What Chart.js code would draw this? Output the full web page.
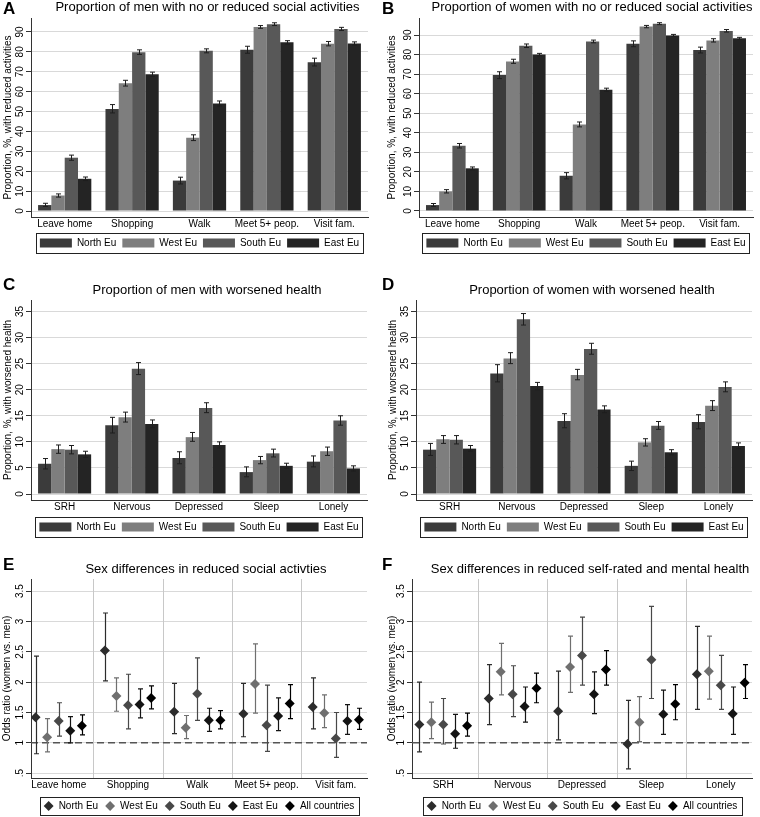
<!DOCTYPE html>
<html>
<head>
<meta charset="utf-8">
<script src="https://cdn.jsdelivr.net/npm/chart.js@4.4.1/dist/chart.umd.min.js"></script>
<style>
  body { margin: 0; background: #fff; }
  #wrap { position: relative; width: 760px; height: 817px; background: #fff; }
  canvas { position: absolute; }
  .lbl { position: absolute; font: bold 17px "Liberation Sans", Arial, sans-serif; line-height: 17px; color: #000; }
</style>
</head>
<body>
<div id="wrap">
  <canvas id="cA" width="380" height="270" style="left:0;top:0"></canvas>
  <canvas id="cB" width="380" height="270" style="left:380px;top:0"></canvas>
  <canvas id="cC" width="380" height="270" style="left:0;top:270px"></canvas>
  <canvas id="cD" width="380" height="270" style="left:380px;top:270px"></canvas>
  <canvas id="cE" width="380" height="277" style="left:0;top:540px"></canvas>
  <canvas id="cF" width="380" height="277" style="left:380px;top:540px"></canvas>
  <div class="lbl" style="left:3px;top:0">A</div>
  <div class="lbl" style="left:382px;top:0">B</div>
  <div class="lbl" style="left:3px;top:276px">C</div>
  <div class="lbl" style="left:382px;top:276px">D</div>
  <div class="lbl" style="left:3px;top:556px">E</div>
  <div class="lbl" style="left:382px;top:556px">F</div>
</div>
<script>
// categories
const regions = ['North Eu', 'West Eu', 'South Eu', 'East Eu'];
const oddsGroups = ['North Eu', 'West Eu', 'South Eu', 'East Eu', 'All countries'];
const activities = ['Leave home', 'Shopping', 'Walk', 'Meet 5+ peop.', 'Visit fam.'];
const healthItems = ['SRH', 'Nervous', 'Depressed', 'Sleep', 'Lonely'];

// tick labels
const pctTicksAct = [0, 10, 20, 30, 40, 50, 60, 70, 80, 90];
const pctTicksHealth = [0, 5, 10, 15, 20, 25, 30, 35];
const oddsTicks = [0.5, 1, 1.5, 2, 2.5, 3, 3.5];
const oddsTickLabels = ['.5', '1', '1.5', '2', '2.5', '3', '3.5'];

// A: men, reduced social activities (rows = regions)
const menAct = [
  [3.0, 51.3, 15.3, 81.0, 74.8],
  [7.8, 64.2, 36.8, 92.5, 84.1],
  [26.8, 79.8, 80.5, 93.9, 91.5],
  [16.2, 68.7, 54.0, 84.8, 84.2]
];
const menActLo = [
  [2.3, 49.3, 13.6, 79.3, 72.9],
  [7.0, 62.8, 35.4, 91.8, 83.0],
  [25.5, 78.7, 79.5, 93.2, 90.7],
  [15.3, 67.6, 52.8, 83.9, 83.4]
];
const menActHi = [
  [3.9, 53.5, 17.0, 82.8, 76.8],
  [8.6, 65.7, 38.3, 93.2, 85.2],
  [28.1, 81.0, 81.5, 94.6, 92.3],
  [17.1, 69.8, 55.3, 85.6, 85.0]
];

// B: women, reduced social activities
const womenAct = [
  [3.0, 69.5, 18.0, 85.5, 82.3],
  [10.0, 76.5, 44.2, 94.3, 87.2],
  [33.3, 84.5, 86.7, 95.8, 92.1],
  [21.8, 80.0, 62.0, 89.8, 88.3]
];
const womenActLo = [
  [2.3, 67.7, 16.4, 84.0, 80.8],
  [9.2, 75.5, 43.0, 93.7, 86.4],
  [32.2, 83.6, 86.0, 95.3, 91.5],
  [21.0, 79.4, 61.2, 89.3, 87.7]
];
const womenActHi = [
  [3.8, 71.2, 19.6, 87.0, 83.8],
  [10.9, 77.6, 45.5, 94.9, 88.1],
  [34.5, 85.4, 87.4, 96.3, 92.8],
  [22.5, 80.6, 62.8, 90.3, 88.8]
];

// C: men, worsened health
const menHealth = [
  [5.8, 13.2, 6.9, 4.2, 6.2],
  [8.6, 14.7, 10.9, 6.5, 8.2],
  [8.5, 24.0, 16.5, 7.8, 14.1],
  [7.6, 13.4, 9.4, 5.4, 4.9]
];
const menHealthLo = [
  [4.8, 11.7, 5.8, 3.3, 5.2],
  [7.8, 13.8, 10.1, 5.8, 7.4],
  [7.7, 22.9, 15.6, 7.1, 13.2],
  [7.0, 12.7, 8.8, 4.9, 4.4]
];
const menHealthHi = [
  [6.8, 14.7, 8.1, 5.2, 7.3],
  [9.4, 15.7, 11.8, 7.2, 9.0],
  [9.3, 25.2, 17.5, 8.6, 15.0],
  [8.2, 14.2, 10.0, 5.9, 5.4]
];

// D: women, worsened health
const womenHealth = [
  [8.5, 23.1, 14.0, 5.4, 13.8],
  [10.5, 26.0, 22.8, 9.9, 16.9],
  [10.4, 33.5, 27.8, 13.1, 20.5],
  [8.7, 20.7, 16.2, 8.0, 9.2]
];
const womenHealthLo = [
  [7.4, 21.5, 12.7, 4.5, 12.5],
  [9.7, 25.0, 21.9, 9.2, 16.0],
  [9.6, 32.4, 26.8, 12.4, 19.6],
  [8.2, 20.0, 15.6, 7.5, 8.7]
];
const womenHealthHi = [
  [9.7, 24.8, 15.4, 6.3, 15.2],
  [11.2, 27.1, 23.9, 10.6, 17.9],
  [11.2, 34.6, 28.9, 13.9, 21.5],
  [9.3, 21.4, 16.9, 8.5, 9.8]
];

// E: odds ratios, social activities (rows = oddsGroups)
const orAct = [
  [1.42, 2.52, 1.51, 1.48, 1.59],
  [1.09, 1.77, 1.25, 1.97, 1.49],
  [1.36, 1.62, 1.81, 1.29, 1.07],
  [1.20, 1.63, 1.37, 1.44, 1.36],
  [1.28, 1.74, 1.37, 1.65, 1.38]
];
const orActLo = [
  [0.82, 2.02, 1.15, 1.10, 1.23],
  [0.85, 1.52, 1.07, 1.49, 1.25],
  [1.11, 1.23, 1.37, 0.86, 0.76],
  [1.00, 1.41, 1.19, 1.20, 1.14],
  [1.13, 1.56, 1.23, 1.40, 1.22]
];
const orActHi = [
  [2.43, 3.14, 1.98, 1.98, 2.07],
  [1.40, 2.07, 1.45, 2.63, 1.79],
  [1.66, 2.13, 2.40, 1.95, 1.50],
  [1.43, 1.89, 1.57, 1.74, 1.63],
  [1.46, 1.94, 1.53, 1.96, 1.57]
];

// F: odds ratios, health
const orHealth = [
  [1.30, 1.73, 1.52, 0.98, 2.13],
  [1.34, 2.17, 2.25, 1.34, 2.18],
  [1.30, 1.80, 2.44, 2.37, 1.95],
  [1.15, 1.60, 1.80, 1.47, 1.48],
  [1.28, 1.90, 2.21, 1.64, 1.99]
];
const orHealthLo = [
  [0.85, 1.30, 1.05, 0.57, 1.55],
  [1.07, 1.79, 1.83, 1.02, 1.72],
  [0.98, 1.43, 1.95, 1.73, 1.55],
  [0.91, 1.34, 1.48, 1.14, 1.14],
  [1.11, 1.66, 1.95, 1.38, 1.73]
];
const orHealthHi = [
  [2.00, 2.29, 2.18, 1.70, 2.92],
  [1.67, 2.64, 2.76, 1.76, 2.76],
  [1.73, 2.27, 3.07, 3.25, 2.44],
  [1.47, 1.92, 2.17, 1.87, 1.92],
  [1.49, 2.15, 2.52, 1.96, 2.29]
];

const FONT = '"Liberation Sans", Arial, sans-serif';
const barColors = ['#3b3b3b', '#7e7e7e', '#585858', '#242424'];
const dotColors = ['#2c2c2c', '#6f6f6f', '#484848', '#141414', '#000000'];

Chart.defaults.font.family = FONT;
Chart.defaults.font.size = 10;
Chart.defaults.color = '#000';
Chart.defaults.animation = false;

// stata-like vertical y tick labels
const rotatedYTicks = {
  id: 'rotatedYTicks',
  afterDraw(chart) {
    const s = chart.scales.y;
    const ctx = chart.ctx;
    ctx.save();
    ctx.fillStyle = '#000';
    ctx.font = '10px ' + FONT;
    ctx.textAlign = 'center';
    ctx.textBaseline = 'middle';
    s.ticks.forEach(t => {
      const y = s.getPixelForValue(t.value);
      ctx.save();
      ctx.translate(s.right - 11, y);
      ctx.rotate(-Math.PI / 2);
      ctx.fillText(t.label, 0, 0);
      ctx.restore();
    });
    ctx.restore();
  }
};

// nudge the title a little right of the plot centre, as in the original
const titleShift = {
  id: 'titleShift',
  afterLayout(chart, args, opts) {
    const t = chart.titleBlock;
    if (t) { t.left += opts.dx; t.right += opts.dx; }
  }
};

const legendBorder = {
  id: 'legendBorder',
  afterDraw(chart, args, opts) {
    const lg = chart.legend;
    const hb = lg.legendHitBoxes;
    if (!hb || !hb.length) return;
    const last = hb[hb.length - 1];
    const cy = hb[0].top + hb[0].height / 2;
    const ctx = chart.ctx;
    ctx.save();
    ctx.strokeStyle = '#222';
    ctx.lineWidth = 1;
    ctx.strokeRect(Math.round(hb[0].left - 4) + 0.5, Math.round(cy - opts.half) + 0.5,
      Math.round(last.left + last.width - hb[0].left + 8), Math.round(opts.half * 2));
    ctx.restore();
  }
};

const barErrors = {
  id: 'barErrors',
  afterDatasetsDraw(chart) {
    const ctx = chart.ctx;
    const y = chart.scales.y;
    ctx.save();
    ctx.strokeStyle = '#1e1e1e';
    ctx.lineWidth = 1;
    chart.data.datasets.forEach((ds, di) => {
      chart.getDatasetMeta(di).data.forEach((el, i) => {
        const x = Math.round(el.x) + 0.5;
        const y1 = y.getPixelForValue(ds.lo[i]);
        const y2 = y.getPixelForValue(ds.hi[i]);
        ctx.beginPath();
        ctx.moveTo(x, y1); ctx.lineTo(x, y2);
        ctx.moveTo(x - 2.5, y1); ctx.lineTo(x + 2.5, y1);
        ctx.moveTo(x - 2.5, y2); ctx.lineTo(x + 2.5, y2);
        ctx.stroke();
      });
    });
    ctx.restore();
  }
};

const oddsDecor = {
  id: 'oddsDecor',
  beforeDatasetsDraw(chart) {
    const ctx = chart.ctx;
    const xs = chart.scales.x, ys = chart.scales.y;
    const a = chart.chartArea;
    ctx.save();
    // separators between groups
    ctx.strokeStyle = '#c8c8c8';
    ctx.lineWidth = 1;
    for (let i = 1; i < 5; i++) {
      const x = Math.round(xs.getPixelForValue(i + 0.5)) + 0.5;
      ctx.beginPath(); ctx.moveTo(x, a.top); ctx.lineTo(x, a.bottom); ctx.stroke();
    }
    // reference line at 1
    const y1 = ys.getPixelForValue(1);
    ctx.strokeStyle = '#555';
    ctx.lineWidth = 1.6;
    ctx.setLineDash([7, 4]);
    ctx.beginPath(); ctx.moveTo(a.left, y1); ctx.lineTo(a.right, y1); ctx.stroke();
    ctx.setLineDash([]);
    // confidence intervals
    ctx.lineWidth = 1.2;
    chart.data.datasets.forEach((ds, di) => {
      ctx.strokeStyle = ds.borderColor;
      chart.getDatasetMeta(di).data.forEach((el, i) => {
        const x = Math.round(el.x) + 0.5;
        const lo = ys.getPixelForValue(ds.lo[i]);
        const hi = ys.getPixelForValue(ds.hi[i]);
        ctx.beginPath();
        ctx.moveTo(x, lo); ctx.lineTo(x, hi);
        ctx.moveTo(x - 2.5, lo); ctx.lineTo(x + 2.5, lo);
        ctx.moveTo(x - 2.5, hi); ctx.lineTo(x + 2.5, hi);
        ctx.stroke();
      });
    });
    ctx.restore();
  }
};

function yAxis(lay, title, ticks, labels, min, max) {
  return {
    min: min, max: max,
    afterBuildTicks: s => { s.ticks = ticks.map(v => ({ value: v })); },
    afterFit: s => { s.width = lay.yw; },
    ticks: {
      color: 'rgba(0,0,0,0)',
      callback: (v, i) => labels ? labels[i] : String(v)
    },
    grid: { color: '#d9d9d9', tickColor: '#333', tickLength: 5 },
    border: { display: true, color: '#333' },
    title: { display: true, text: title, font: { size: 10 }, padding: { top: lay.ytp, bottom: 0 } }
  };
}

function commonOptions(lay, title, legendPad, half, pointLegend) {
  return {
    responsive: false,
    devicePixelRatio: 1,
    events: [],
    layout: { padding: { left: 0, top: lay.pt, right: lay.pr, bottom: lay.pb } },
    plugins: {
      title: {
        display: true, text: title, fullSize: false,
        font: { size: 13, weight: 'normal', lineHeight: 1.2 },
        padding: { top: 0, bottom: lay.tb }
      },
      legend: {
        position: 'bottom', fullSize: false,
        labels: pointLegend
          ? { usePointStyle: true, boxWidth: 10, boxHeight: 7, padding: legendPad, font: { size: 10 } }
          : { boxWidth: 32, boxHeight: 9, padding: legendPad, font: { size: 10 } }
      },
      tooltip: { enabled: false },
      legendBorder: { half: half },
      titleShift: { dx: lay.tx }
    }
  };
}

function barPanel(id, cats, vals, lo, hi, title, yTitle, ticks, min, max, lay) {
  const opts = commonOptions(lay, title, 6, 10, false);
  opts.scales = {
    x: {
      type: 'category',
      afterFit: s => { s.height = lay.xh; },
      grid: { display: false, drawTicks: false },
      border: { display: true, color: '#333' },
      ticks: { padding: 1, maxRotation: 0, autoSkip: false }
    },
    y: yAxis(lay, yTitle, ticks, null, min, max)
  };
  new Chart(document.getElementById(id), {
    type: 'bar',
    data: {
      labels: cats,
      datasets: regions.map((r, s) => ({
        label: r,
        data: vals[s],
        lo: lo[s],
        hi: hi[s],
        backgroundColor: barColors[s],
        borderWidth: 0,
        categoryPercentage: 0.79,
        barPercentage: 1.0
      }))
    },
    options: opts,
    plugins: [barErrors, rotatedYTicks, legendBorder, titleShift]
  });
}

function oddsPanel(id, cats, vals, lo, hi, title, xMin, step, lay) {
  const opts = commonOptions(lay, title, 7, 9, true);
  opts.scales = {
    x: {
      type: 'linear', min: xMin, max: 5.45,
      afterBuildTicks: s => { s.ticks = cats.map((c, i) => ({ value: i + 1 })); },
      afterFit: s => { s.height = lay.xh; },
      grid: { display: false, drawTicks: false },
      border: { display: true, color: '#333' },
      ticks: { padding: 1, maxRotation: 0, autoSkip: false, callback: v => cats[Math.round(v) - 1] }
    },
    y: yAxis(lay, 'Odds ratio (women vs. men)', oddsTicks, oddsTickLabels, 0.42, 3.7)
  };
  new Chart(document.getElementById(id), {
    type: 'scatter',
    data: {
      datasets: oddsGroups.map((g, s) => ({
        label: g,
        data: vals[s].map((v, i) => ({ x: i + 1 + (s - 2) * step, y: v })),
        lo: lo[s],
        hi: hi[s],
        pointStyle: 'rectRot',
        pointRadius: 5,
        backgroundColor: dotColors[s],
        borderColor: dotColors[s],
        borderWidth: 0
      }))
    },
    options: opts,
    plugins: [oddsDecor, rotatedYTicks, legendBorder, titleShift]
  });
}

barPanel('cA', activities, menAct, menActLo, menActHi,
  'Proportion of men with no or reduced social activities',
  'Proportion, %, with reduced activities', pctTicksAct, -3, 97,
  { pt: 0, tb: 2.4, yw: 31, xh: 15, pr: 12, pb: 12, ytp: 2, tx: 8 });

barPanel('cB', activities, womenAct, womenActLo, womenActHi,
  'Proportion of women with no or reduced social activities',
  'Proportion, %, with reduced activities', pctTicksAct, -3.1, 98.7,
  { pt: 0, tb: 2.4, yw: 39, xh: 15, pr: 7, pb: 12, ytp: 6, tx: 6 });

barPanel('cC', healthItems, menHealth, menHealthLo, menHealthHi,
  'Proportion of men with worsened health',
  'Proportion, %, with worsened health', pctTicksHealth, -1.15, 37.2,
  { pt: 12.2, tb: 2.2, yw: 31, xh: 16, pr: 13, pb: -2, ytp: 2, tx: 8 });

barPanel('cD', healthItems, womenHealth, womenHealthLo, womenHealthHi,
  'Proportion of women with worsened health',
  'Proportion, %, with worsened health', pctTicksHealth, -1.15, 37.2,
  { pt: 12.2, tb: 2.2, yw: 36, xh: 16, pr: 8, pb: -2, ytp: 7, tx: 8 });

oddsPanel('cE', activities, orAct, orActLo, orActHi,
  'Sex differences in reduced social activties', 0.6, 0.167,
  { pt: 21.2, tb: 2.2, yw: 31, xh: 16, pr: 13, pb: -4, ytp: 1, tx: 7 });

oddsPanel('cF', healthItems, orHealth, orHealthLo, orHealthHi,
  'Sex differences in reduced self-rated and mental health', 0.55, 0.172,
  { pt: 21.2, tb: 2.2, yw: 32, xh: 16, pr: 8, pb: -4, ytp: 6, tx: 8 });
</script>
</body>
</html>
